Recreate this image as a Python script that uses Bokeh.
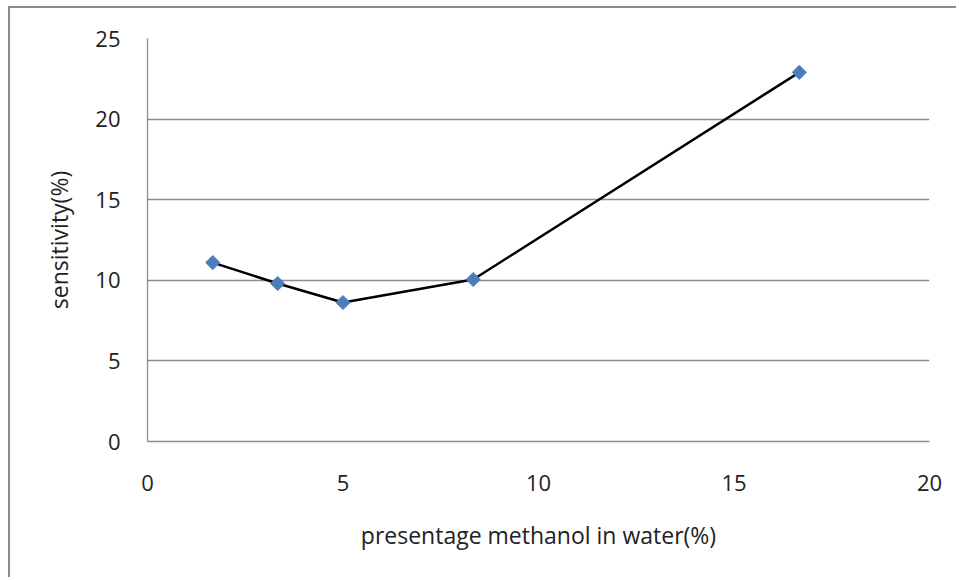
import math
from bokeh.plotting import figure
from bokeh.embed import file_html
from bokeh.resources import INLINE
from bokeh.models import Range1d, FixedTicker

methanol_pct = [1.67, 3.33, 5.0, 8.33, 16.67]
sensitivity = [11.1, 9.8, 8.62, 10.05, 22.9]
x_ticks = [0, 5, 10, 15, 20]
y_ticks = [0, 5, 10, 15, 20, 25]

p = figure(width=948, height=571, output_backend="svg", toolbar_location=None,
           x_range=Range1d(0, 20), y_range=Range1d(0, 25),
           min_border_left=137, min_border_right=29, min_border_top=30, min_border_bottom=138)
p.styles = {"border-top": "2px solid #8c8c8c", "border-left": "2px solid #8c8c8c",
            "margin-top": "6px", "margin-left": "8px"}
p.outline_line_color = None

p.line(methanol_pct, sensitivity, line_color="black", line_width=2.5)
p.scatter(methanol_pct, sensitivity, marker="square", size=10, angle=math.pi / 4,
          fill_color="#4a7ebb", line_color="#4a7ebb")

FONT = "Open Sans"
for ax in (p.xaxis, p.yaxis):
    ax.axis_line_color = "#8c8c8c"
    ax.axis_line_width = 1.3
    ax.major_tick_line_color = None
    ax.minor_tick_line_color = None
    ax.major_label_text_font = FONT
    ax.major_label_text_font_size = "22px"
    ax.major_label_text_color = "#222222"
    ax.axis_label_text_font = FONT
    ax.axis_label_text_font_size = "23px"
    ax.axis_label_text_font_style = "normal"
    ax.axis_label_text_color = "#222222"

p.xaxis.ticker = FixedTicker(ticks=x_ticks)
p.yaxis.ticker = FixedTicker(ticks=y_ticks)
p.xaxis.major_label_standoff = 27
p.yaxis.major_label_standoff = 21
p.xaxis.axis_label = "presentage methanol in water(%)"
p.yaxis.axis_label = "sensitivity(%)"
p.xaxis.axis_label_standoff = 25
p.yaxis.axis_label_standoff = 17

p.xgrid.grid_line_color = None
p.ygrid.grid_line_color = "#8c8c8c"
p.ygrid.grid_line_width = 1.3
p.ygrid.ticker = FixedTicker(ticks=y_ticks)

open("out.html", "w").write(file_html(p, INLINE))
